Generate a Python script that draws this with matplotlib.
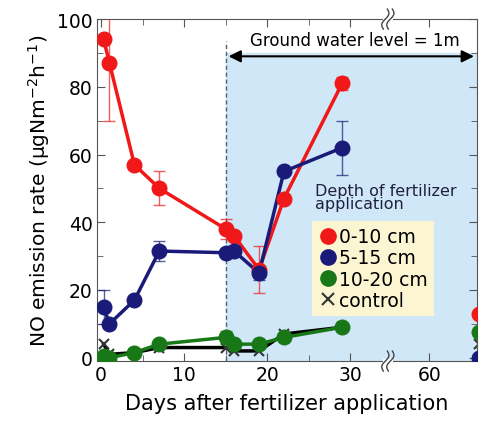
import numpy as np
import matplotlib
matplotlib.use("Agg")
import matplotlib.pyplot as plt
from matplotlib.lines import Line2D
from matplotlib.patches import Rectangle

# days after fertilizer application (real days, 66 sits after the axis break)
days = [0.3, 1, 4, 7, 15, 16, 19, 22, 29, 66]

red = [94, 87, 57, 50, 38, 36, 26, 47, 81, 13]
red_err = [0, 17, 0, 5, 3, 0, 7, 0, 2, 0]
blue = [15, 10, 17, 31.5, 31, 31.5, 25, 55, 62, 0]
blue_err = [5, 0, 0, 3, 0, 0, 2, 0, 8, 0]
green = [0.5, 0, 1.5, 4, 6, 4, 4, 6, 9, 7.5]
green_err = [0, 0, 0, 0, 2, 0, 0, 0, 0, 0]
control = [4, 1, 1.5, 3, 3, 2, 2, 7, 9, 4]

legend_labels = ["0-10 cm", "5-15 cm", "10-20 cm", "control"]

c_red = "#f01818"
c_blue = "#1a1a78"
c_green = "#187818"

W, H = 485, 427


def brk(d):
    # compress the x axis between ~35 and ~55 days
    d = np.asarray(d, dtype=float)
    return np.where(d <= 35, d, d - 20.5)


fig = plt.figure(figsize=(W / 100, H / 100), dpi=100)
ax = fig.add_axes([0.2, 0.152, 0.783, 0.801])
xmin, xmax = -0.5, 45.2

x = brk(days)
ax.axvspan(15, 46, ymin=0, ymax=0.9, color="#cfe7f7", zorder=0)
ax.plot([15, 15], [-1, 93.5], ls=(0, (3, 2)), color="#556070", lw=1, zorder=1)

n = 9  # points before the break are joined by lines
for y, e, c in [(red, red_err, c_red), (blue, blue_err, c_blue), (green, green_err, c_green)]:
    ax.plot(x[:n], y[:n], color=c, lw=2.5, zorder=3)
    ax.errorbar(x[:n], y[:n], yerr=e[:n], fmt="none", ecolor=c, elinewidth=1, capsize=4, alpha=0.7, zorder=3)
    ax.plot(x, y, "o", color=c, ms=10.5, zorder=4)
ax.plot(x[:n], control[:n], color="black", lw=2.5, zorder=2)
ax.plot(x, control, "x", color="#333333", ms=7, mew=1.5, zorder=2)

ax.set_xlim(xmin, xmax)
ax.set_ylim(-1, 100)
ax.set_xticks([0, 10, 20, 30, 39.5])
ax.set_xticklabels(["0", "10", "20", "30", "60"])
ax.set_xticks([5, 15, 25], minor=True)
ax.set_yticks([0, 20, 40, 60, 80, 100])
ax.set_yticks([10, 30, 50, 70, 90], minor=True)
ax.tick_params(direction="in", which="both", top=True, right=True, labelsize=13.5, length=6, color="#555555", pad=3)
ax.tick_params(which="minor", length=4)
for s in ax.spines.values():
    s.set_color("#555555")

ax.set_xlabel("Days after fertilizer application", fontsize=15, labelpad=6)
ax.set_ylabel("NO emission rate (\u03bcgNm$^{-2}$h$^{-1}$)", fontsize=14.5, labelpad=4)

# axis break marks drawn in figure pixels (y measured from the bottom)
bx = (0.2 + 0.783 * (34.5 - xmin) / (xmax - xmin)) * W
for by in [0.953 * H, 0.152 * H]:
    fig.patches.append(Rectangle(((bx - 5) / W, (by - 2) / H), 10 / W, 4 / H,
                                 transform=fig.transFigure, fc="white", ec="none", zorder=5))
    t = np.linspace(-1, 1, 40)
    for off in [-2.5, 2.5]:
        px = bx + off + 2.5 * np.sin(np.pi * t) + 2 * t
        py = by + 10 * t
        fig.lines.append(Line2D(px / W, py / H, transform=fig.transFigure, color="#444444", lw=1, zorder=6))

ax.annotate("", xy=(15, 89), xytext=(xmax, 89),
            arrowprops=dict(arrowstyle="<|-|>", color="black", lw=1.5, mutation_scale=18))
ax.text(30.5, 91.3, "Ground water level = 1m", ha="center", va="bottom", fontsize=12)

handles = [Line2D([], [], marker="o", ls="none", color=c_red, ms=11),
           Line2D([], [], marker="o", ls="none", color=c_blue, ms=11),
           Line2D([], [], marker="o", ls="none", color=c_green, ms=11),
           Line2D([], [], marker="x", ls="none", color="#333333", ms=9, mew=1.5)]
ax.text(0.575, 0.52, "Depth of fertilizer\napplication", transform=ax.transAxes,
        fontsize=11.5, color="#202040", va="top", ha="left", linespacing=0.85)
leg = ax.legend(handles, legend_labels, loc="upper left", bbox_to_anchor=(0.575, 0.40),
                frameon=True, fontsize=13.5, handletextpad=0.1, handlelength=1.0,
                labelspacing=0.12, borderpad=0.15, borderaxespad=0)
leg.get_frame().set_facecolor("#fbf5d2")
leg.get_frame().set_edgecolor("none")
leg.get_frame().set_alpha(1)
leg.get_frame().set_boxstyle("square", pad=0.2)

fig.savefig("out.png", dpi=100)
